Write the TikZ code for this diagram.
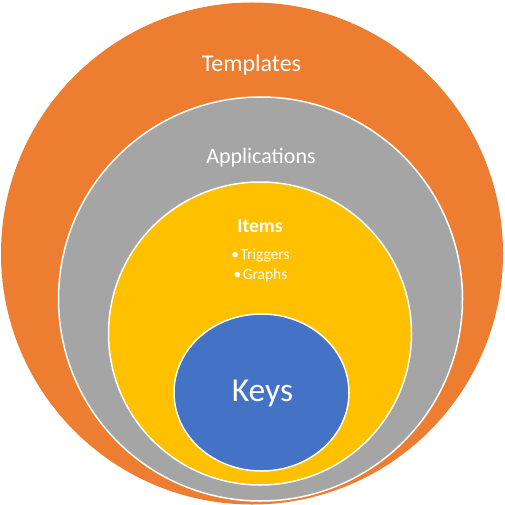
\documentclass[tikz,border=0pt]{standalone}
\usepackage{fontspec}
\setmainfont{Carlito}
\usetikzlibrary{shapes.geometric}
\definecolor{ringorange}{HTML}{ED7D31}
\definecolor{ringgray}{HTML}{A5A5A5}
\definecolor{ringyellow}{HTML}{FFC000}
\definecolor{ringblue}{HTML}{4472C4}
\begin{document}
\begin{tikzpicture}[x=1pt,y=-1pt,
  ring/.style={circle,inner sep=0pt,draw=white,line width=1.5pt},
  label/.style={text=white,inner sep=0pt,anchor=base}]
\useasboundingbox (0,0) rectangle (505,505);
% nested layers, outermost first
\node[ring,draw=none,fill=ringorange,minimum size=502pt] (templates) at (252,253.5) {};
\node[ring,fill=ringgray,minimum size=404pt] (applications) at (260.5,299) {};
\node[ring,fill=ringyellow,minimum size=303pt] (items) at (260,333.5) {};
\node[ellipse,inner sep=0pt,draw=white,line width=1.5pt,fill=ringblue,
      minimum width=175pt,minimum height=157pt] (keys) at (261.5,392.5) {};
% captions
\node[label,font=\fontsize{24}{28}\selectfont] (tlabel) at (251.5,72) {Templates};
\node[label,font=\fontsize{22}{26}\selectfont] (alabel) at (261,164) {Applications};
\node[label,font=\bfseries\fontsize{19.5}{23}\selectfont] (ilabel) at (260,232.5) {Items};
\node[label,font=\fontsize{15.5}{19}\selectfont] (trig) at (260.5,259) {•\hspace{1.5pt}Triggers};
\node[label,font=\fontsize{15.5}{19}\selectfont] (graph) at (260.5,279) {•\hspace{1.5pt}Graphs};
\node[label,font=\fontsize{33.5}{40}\selectfont] (klabel) at (262.5,401.5) {Keys};
\end{tikzpicture}
\end{document}
